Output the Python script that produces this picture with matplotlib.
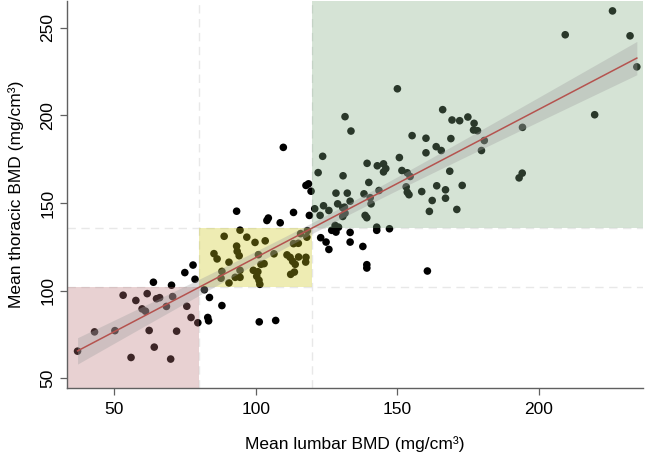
import numpy as np
import matplotlib
matplotlib.use("Agg")
import matplotlib.pyplot as plt
from matplotlib.patches import Rectangle

plt.rcParams['font.family'] = ['Liberation Sans', 'DejaVu Sans']

# lumbar (x) and thoracic (y) BMD values
lumbar = [37, 43, 50.2, 53.1, 55.9, 57.6, 59.8, 61.0, 61.6, 62.3, 63.8, 64.1, 64.9, 66.0, 68.4, 69.9, 70.2, 70.6,
          72.0, 74.9, 75.6, 77.1, 77.8, 78.5, 79.5,
          81.8, 83.6, 83.0, 83.3, 88.0, 101.2, 107.0,
          94.4, 88.8, 96.8, 99.7, 103.3, 93.2, 93.4, 94.1, 85.2, 86.3, 90.5, 100.9, 101.8, 102.9, 106.4, 111.0,
          112.1, 113.0, 113.9, 115.1, 117.7, 117.6, 88.0, 87.7, 94.4, 99.1, 100.7, 100.3, 101.1, 92.7, 94.4, 90.5,
          101.4, 113.6, 112.3, 115.8, 118.2, 115.0, 113.3, 118.0,
          93.2, 103.9, 104.4, 108.6, 113.3, 109.7, 117.7, 118.6, 119.5, 118.9,
          131.5, 133.6, 123.6, 122.0, 130.8, 139.3, 142.9, 145.1, 145.9, 145.1, 150.7, 151.6, 153.5, 154.5, 155.2,
          160.1, 160.1, 163.7, 165.5, 166.0, 169.3, 172.0, 174.9, 168.9, 168.5, 172.9, 167.0, 167.0, 162.3, 161.3,
          171.0, 158.6, 153.5, 154.1, 153.1, 139.9, 138.2, 140.7, 128.3, 132.3, 133.3, 128.9, 130.7, 123.9, 125.8,
          120.8, 122.7, 131.3, 131.5, 130.7, 138.6, 139.2, 128.0, 129.2, 126.8, 128.3, 142.7, 142.7, 147.2, 133.3,
          133.3, 122.9, 124.8, 125.8, 137.8, 139.2, 139.2, 160.6,
          150.0, 177.1, 176.9, 178.3, 194.2, 180.7, 179.7, 163.9, 193.0, 194.1, 140.4, 143.5,
          226.0, 209.3, 232.2, 234.6, 219.7]
thoracic = [65.5, 76.5, 77.2, 97.4, 61.9, 94.4, 89.6, 88.3, 98.3, 77.3, 104.8, 67.8, 95.4, 96.0, 91.0, 61.0, 103.1, 96.6,
            76.9, 110.3, 91.1, 84.7, 114.6, 106.5, 81.7,
            100.5, 96.1, 84.7, 82.8, 91.5, 82.2, 83.0,
            134.5, 131.0, 130.5, 127.5, 128.4, 125.4, 122.4, 119.9, 121.1, 118.1, 116.2, 120.5, 115.0, 115.4, 121.0, 120.4,
            119.0, 116.7, 115.0, 119.2, 119.0, 116.3, 111.0, 107.1, 111.6, 111.6, 110.8, 108.2, 105.9, 107.6, 107.6, 104.4,
            103.6, 110.6, 109.3, 132.5, 134.2, 127.0, 126.8, 130.5,
            145.3, 140.0, 141.4, 138.7, 144.6, 181.7, 160.0, 160.9, 156.7, 142.9,
            199.2, 191.0, 176.6, 167.3, 165.5, 172.6, 171.2, 172.3, 169.6, 167.7, 175.9, 168.5, 167.2, 165.1, 188.4,
            186.9, 178.6, 182.1, 179.9, 203.2, 197.3, 196.9, 199.0, 186.7, 168.1, 160.0, 157.5, 152.7, 151.4, 145.2,
            146.3, 156.5, 156.1, 154.7, 159.2, 161.7, 155.2, 149.5, 155.6, 155.6, 151.0, 149.5, 147.3, 148.4, 145.7,
            146.7, 142.9, 147.6, 144.2, 142.3, 142.9, 141.6, 137.2, 136.2, 134.4, 133.4, 136.2, 134.4, 135.3, 133.2,
            127.7, 130.2, 127.7, 123.5, 125.2, 114.8, 112.9, 111.2,
            215.1, 195.4, 191.6, 191.2, 193.1, 185.6, 179.9, 159.8, 164.3, 167.0, 153.0, 157.1,
            259.5, 245.9, 245.3, 227.6, 200.3]

x_cut = [80, 120]
y_cut = [102, 136]
x_ticks = [50, 100, 150, 200]
y_ticks = [50, 100, 150, 200, 250]

x = np.array(lumbar)
y = np.array(thoracic)

fig = plt.figure(figsize=(6.45, 4.57), dpi=100)
ax = fig.add_axes([0.104, 0.151, 0.893, 0.847])
xlim = (33.3, 236.8)
ylim = (44.5, 265.2)
ax.set_xlim(xlim)
ax.set_ylim(ylim)

# dashed reference lines
for xv in x_cut:
    ax.axvline(xv, color='#e8e8e8', lw=1.0, ls=(0, (6, 4)), zorder=0.5)
for yv in y_cut:
    ax.axhline(yv, color='#e8e8e8', lw=1.0, ls=(0, (6, 4)), zorder=0.5)

ax.scatter(x, y, s=30, color='black', edgecolors='none', zorder=1)

a = 0.33
ax.add_patch(Rectangle((xlim[0], ylim[0]), x_cut[0] - xlim[0], y_cut[0] - ylim[0],
                       facecolor=(0.73, 0.46, 0.47), alpha=a, edgecolor='none', zorder=2))
ax.add_patch(Rectangle((x_cut[0], y_cut[0]), x_cut[1] - x_cut[0], y_cut[1] - y_cut[0],
                       facecolor=(0.80, 0.78, 0.10), alpha=a, edgecolor='none', zorder=2))
ax.add_patch(Rectangle((x_cut[1], y_cut[1]), xlim[1] - x_cut[1], ylim[1] - y_cut[1],
                       facecolor=(0.50, 0.67, 0.51), alpha=a, edgecolor='none', zorder=2))

# linear fit with 95% CI
b1, b0 = np.polyfit(x, y, 1)
n = len(x)
res = y - (b0 + b1 * x)
s = np.sqrt(np.sum(res ** 2) / (n - 2))
xs = np.linspace(x.min(), x.max(), 200)
se = s * np.sqrt(1 / n + (xs - x.mean()) ** 2 / np.sum((x - x.mean()) ** 2))
yf = b0 + b1 * xs
ax.fill_between(xs, yf - 2.2 * se, yf + 2.2 * se, color='#a0a0a0', alpha=0.35, lw=0, zorder=3)
ax.plot(xs, yf, color='#b5534f', lw=1.1, zorder=4)

for side in ['top', 'right']:
    ax.spines[side].set_visible(False)
for side in ['left', 'bottom']:
    ax.spines[side].set_color('#606060')
    ax.spines[side].set_linewidth(1.0)

ax.set_xticks(x_ticks)
ax.set_yticks(y_ticks)
ax.tick_params(axis='both', direction='out', length=5, width=0.9, color='#606060', labelsize=12.5)
ax.tick_params(axis='x', pad=5)
for lab in ax.get_yticklabels():
    lab.set_rotation(90)
    lab.set_va('center')
ax.set_xlabel('Mean lumbar BMD (mg/cm³)', fontsize=12.5, labelpad=14)
ax.set_ylabel('Mean thoracic BMD (mg/cm³)', fontsize=12.5, labelpad=12)

fig.savefig('out.png', dpi=100)
